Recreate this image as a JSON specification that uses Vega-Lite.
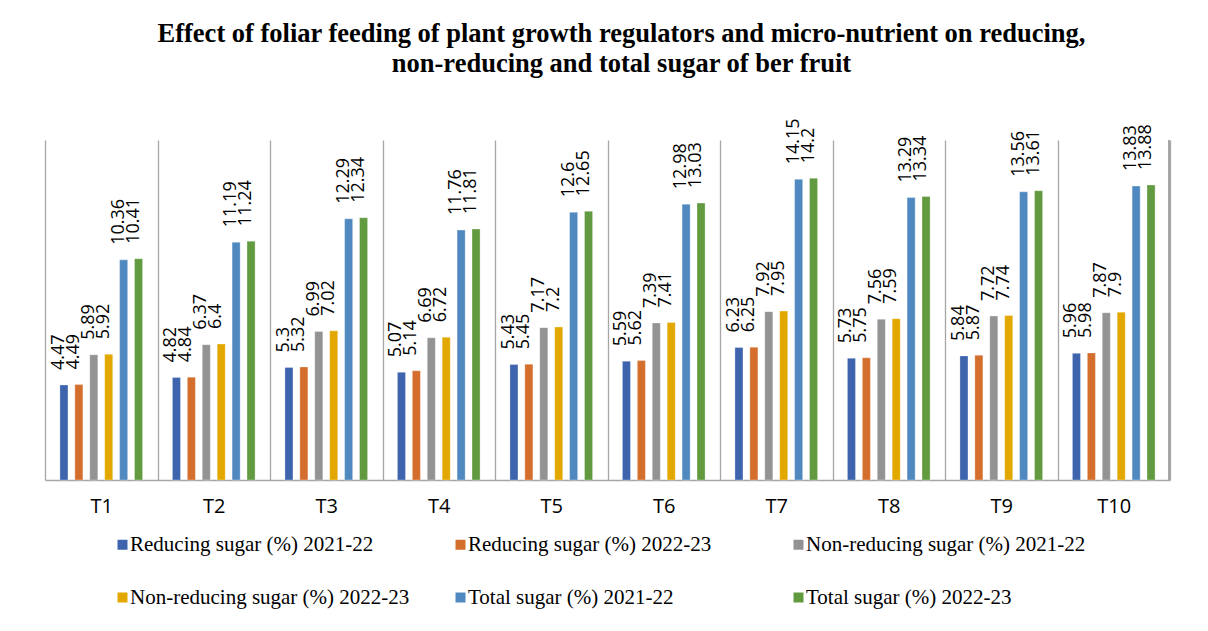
{
  "$schema": "https://vega.github.io/schema/vega-lite/v6.json",
  "autosize": "none",
  "width": 1125,
  "height": 340,
  "padding": {"left": 45, "top": 140, "right": 38, "bottom": 151},
  "background": "white",
  "title": {
    "text": ["Effect of foliar feeding of plant growth regulators and micro-nutrient on reducing,", "non-reducing and total sugar of ber fruit"],
    "font": "Liberation Serif",
    "fontSize": 26.5,
    "fontWeight": "bold",
    "color": "#000000",
    "lineHeight": 30,
    "anchor": "middle",
    "dx": 14,
    "offset": 41
  },
  "data": {
    "values": [
      {"T": "T1", "s": "Reducing sugar (%) 2021-22", "v": 4.47},
      {"T": "T1", "s": "Reducing sugar (%) 2022-23", "v": 4.49},
      {"T": "T1", "s": "Non-reducing sugar (%) 2021-22", "v": 5.89},
      {"T": "T1", "s": "Non-reducing sugar (%) 2022-23", "v": 5.92},
      {"T": "T1", "s": "Total sugar (%) 2021-22", "v": 10.36},
      {"T": "T1", "s": "Total sugar (%) 2022-23", "v": 10.41},
      {"T": "T2", "s": "Reducing sugar (%) 2021-22", "v": 4.82},
      {"T": "T2", "s": "Reducing sugar (%) 2022-23", "v": 4.84},
      {"T": "T2", "s": "Non-reducing sugar (%) 2021-22", "v": 6.37},
      {"T": "T2", "s": "Non-reducing sugar (%) 2022-23", "v": 6.4},
      {"T": "T2", "s": "Total sugar (%) 2021-22", "v": 11.19},
      {"T": "T2", "s": "Total sugar (%) 2022-23", "v": 11.24},
      {"T": "T3", "s": "Reducing sugar (%) 2021-22", "v": 5.3},
      {"T": "T3", "s": "Reducing sugar (%) 2022-23", "v": 5.32},
      {"T": "T3", "s": "Non-reducing sugar (%) 2021-22", "v": 6.99},
      {"T": "T3", "s": "Non-reducing sugar (%) 2022-23", "v": 7.02},
      {"T": "T3", "s": "Total sugar (%) 2021-22", "v": 12.29},
      {"T": "T3", "s": "Total sugar (%) 2022-23", "v": 12.34},
      {"T": "T4", "s": "Reducing sugar (%) 2021-22", "v": 5.07},
      {"T": "T4", "s": "Reducing sugar (%) 2022-23", "v": 5.14},
      {"T": "T4", "s": "Non-reducing sugar (%) 2021-22", "v": 6.69},
      {"T": "T4", "s": "Non-reducing sugar (%) 2022-23", "v": 6.72},
      {"T": "T4", "s": "Total sugar (%) 2021-22", "v": 11.76},
      {"T": "T4", "s": "Total sugar (%) 2022-23", "v": 11.81},
      {"T": "T5", "s": "Reducing sugar (%) 2021-22", "v": 5.43},
      {"T": "T5", "s": "Reducing sugar (%) 2022-23", "v": 5.45},
      {"T": "T5", "s": "Non-reducing sugar (%) 2021-22", "v": 7.17},
      {"T": "T5", "s": "Non-reducing sugar (%) 2022-23", "v": 7.2},
      {"T": "T5", "s": "Total sugar (%) 2021-22", "v": 12.6},
      {"T": "T5", "s": "Total sugar (%) 2022-23", "v": 12.65},
      {"T": "T6", "s": "Reducing sugar (%) 2021-22", "v": 5.59},
      {"T": "T6", "s": "Reducing sugar (%) 2022-23", "v": 5.62},
      {"T": "T6", "s": "Non-reducing sugar (%) 2021-22", "v": 7.39},
      {"T": "T6", "s": "Non-reducing sugar (%) 2022-23", "v": 7.41},
      {"T": "T6", "s": "Total sugar (%) 2021-22", "v": 12.98},
      {"T": "T6", "s": "Total sugar (%) 2022-23", "v": 13.03},
      {"T": "T7", "s": "Reducing sugar (%) 2021-22", "v": 6.23},
      {"T": "T7", "s": "Reducing sugar (%) 2022-23", "v": 6.25},
      {"T": "T7", "s": "Non-reducing sugar (%) 2021-22", "v": 7.92},
      {"T": "T7", "s": "Non-reducing sugar (%) 2022-23", "v": 7.95},
      {"T": "T7", "s": "Total sugar (%) 2021-22", "v": 14.15},
      {"T": "T7", "s": "Total sugar (%) 2022-23", "v": 14.2},
      {"T": "T8", "s": "Reducing sugar (%) 2021-22", "v": 5.73},
      {"T": "T8", "s": "Reducing sugar (%) 2022-23", "v": 5.75},
      {"T": "T8", "s": "Non-reducing sugar (%) 2021-22", "v": 7.56},
      {"T": "T8", "s": "Non-reducing sugar (%) 2022-23", "v": 7.59},
      {"T": "T8", "s": "Total sugar (%) 2021-22", "v": 13.29},
      {"T": "T8", "s": "Total sugar (%) 2022-23", "v": 13.34},
      {"T": "T9", "s": "Reducing sugar (%) 2021-22", "v": 5.84},
      {"T": "T9", "s": "Reducing sugar (%) 2022-23", "v": 5.87},
      {"T": "T9", "s": "Non-reducing sugar (%) 2021-22", "v": 7.72},
      {"T": "T9", "s": "Non-reducing sugar (%) 2022-23", "v": 7.74},
      {"T": "T9", "s": "Total sugar (%) 2021-22", "v": 13.56},
      {"T": "T9", "s": "Total sugar (%) 2022-23", "v": 13.61},
      {"T": "T10", "s": "Reducing sugar (%) 2021-22", "v": 5.96},
      {"T": "T10", "s": "Reducing sugar (%) 2022-23", "v": 5.98},
      {"T": "T10", "s": "Non-reducing sugar (%) 2021-22", "v": 7.87},
      {"T": "T10", "s": "Non-reducing sugar (%) 2022-23", "v": 7.9},
      {"T": "T10", "s": "Total sugar (%) 2021-22", "v": 13.83},
      {"T": "T10", "s": "Total sugar (%) 2022-23", "v": 13.88}
    ]
  },
  "encoding": {
    "x": {
      "field": "T",
      "type": "nominal",
      "sort": null,
      "scale": {"paddingInner": 0, "paddingOuter": 0},
      "axis": {
        "title": null,
        "labelAngle": 0,
        "labelFont": "Open Sans",
        "labelFontSize": 20,
        "labelColor": "#000000",
        "labelPadding": 16,
        "ticks": false,
        "tickBand": "extent",
        "grid": true,
        "gridColor": "#a6a6a6",
        "gridWidth": 1.3,
        "domainColor": "#a6a6a6",
        "domainWidth": 1.3
      }
    },
    "y": {
      "field": "v",
      "type": "quantitative",
      "scale": {"domain": [0, 16], "nice": false},
      "axis": null
    }
  },
  "layer": [
    {
      "mark": {"type": "bar", "stroke": "#ffffff", "strokeOpacity": 0.5, "strokeWidth": 0.6},
      "encoding": {
        "xOffset": {
          "field": "s",
          "type": "nominal",
          "sort": ["Reducing sugar (%) 2021-22", "Reducing sugar (%) 2022-23", "Non-reducing sugar (%) 2021-22", "Non-reducing sugar (%) 2022-23", "Total sugar (%) 2021-22", "Total sugar (%) 2022-23"],
          "scale": {"paddingInner": 0.46, "paddingOuter": 1.165}
        },
        "color": {
          "field": "s",
          "type": "nominal",
          "sort": ["Reducing sugar (%) 2021-22", "Reducing sugar (%) 2022-23", "Non-reducing sugar (%) 2021-22", "Non-reducing sugar (%) 2022-23", "Total sugar (%) 2021-22", "Total sugar (%) 2022-23"],
          "scale": {"range": ["#3e64ae", "#d46e2d", "#939393", "#e2a800", "#5089c0", "#629a3f"]},
          "legend": {
            "title": null,
            "orient": "none",
            "legendX": 67,
            "legendY": 394,
            "direction": "horizontal",
            "columns": 3,
            "gridAlign": "all",
            "columnPadding": 40,
            "rowPadding": 31,
            "padding": 0,
            "symbolType": "square",
            "symbolSize": 100,
            "symbolStrokeWidth": 0,
            "symbolOffset": 0,
            "labelOffset": -3,
            "labelFont": "Liberation Serif",
            "labelFontSize": 21,
            "labelColor": "#000000",
            "labelLimit": 400
          }
        }
      }
    },
    {
      "mark": {"type": "text", "angle": 270, "align": "left", "baseline": "middle", "dx": 15, "dy": -5, "font": "Open Sans", "fontSize": 18, "color": "#000000"},
      "encoding": {
        "xOffset": {
          "field": "s",
          "type": "nominal",
          "sort": ["Reducing sugar (%) 2021-22", "Reducing sugar (%) 2022-23", "Non-reducing sugar (%) 2021-22", "Non-reducing sugar (%) 2022-23", "Total sugar (%) 2021-22", "Total sugar (%) 2022-23"],
          "scale": {"paddingInner": 0.46, "paddingOuter": 1.165}
        },
        "text": {"field": "v", "type": "quantitative"}
      }
    },
    {
      "transform": [{"filter": "datum.T == 'T10'"}],
      "mark": {"type": "rule", "color": "#a6a6a6", "strokeWidth": 1.5},
      "encoding": {
        "x": {"field": "T", "type": "nominal", "sort": null, "bandPosition": 0.99},
        "y": {"datum": 0},
        "y2": {"datum": 16}
      }
    }
  ],
  "config": {
    "view": {"stroke": null}
  }
}
